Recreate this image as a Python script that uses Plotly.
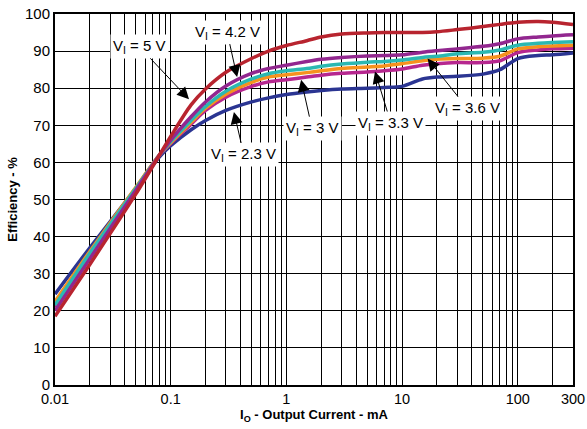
import math
import plotly.graph_objects as go

# Output current (mA)
current = [0.01, 0.02, 0.05, 0.08, 0.1, 0.15, 0.2, 0.3, 0.5, 0.7, 1, 1.5, 2, 3, 5, 7,
           10, 15, 20, 30, 50, 70, 100, 150, 200, 300]

eff_5v = [18.5, 32.5, 51.5, 62, 67, 75.5, 79.8, 84.3, 88, 90, 91.5, 92.8, 93.8, 94.6, 94.9, 95,
          95, 95, 95.2, 95.8, 96.6, 97.2, 97.8, 98, 97.8, 97.2]
eff_4v2 = [20, 34, 52.5, 62, 66, 72.3, 76.3, 80.6, 84, 85.3, 86.2, 87.2, 87.8, 88.3, 88.7, 88.8,
           89, 89.7, 90.1, 90.6, 91.3, 92, 93.3, 93.8, 94.1, 94.4]
eff_3v6 = [21.5, 35.5, 53, 62, 65.6, 71.3, 75.1, 79.2, 82.5, 83.9, 84.7, 85.3, 85.9, 86.5, 87, 87.2,
           87.6, 88.3, 88.6, 89.3, 89.7, 90.3, 91.6, 92.1, 92.3, 92.5]
eff_3v3 = [22.5, 36, 53.3, 62, 65.3, 70.8, 74.6, 78.4, 81.6, 83, 83.6, 84.2, 84.7, 85.3, 85.7, 86,
           86.6, 87.4, 87.8, 88, 88.1, 88.6, 90.6, 91.2, 91.4, 91.6]
eff_3v = [21, 35, 53, 62, 65.1, 70.3, 74, 77.6, 80.5, 81.7, 82.3, 83, 83.5, 84, 84.4, 84.7,
          85.2, 86.2, 86.6, 86.9, 86.9, 87.4, 89.6, 90.3, 90.6, 90.8]
eff_2v3 = [24.5, 37, 53, 61.5, 64.5, 68.8, 71.3, 74, 76.3, 77.4, 78.3, 79, 79.4, 79.8, 80, 80.2,
           80.5, 82.5, 83, 83.2, 83.8, 85, 88, 88.8, 89, 89.5]

series = [
    ("V<sub>I</sub> = 2.3 V", eff_2v3, "#2b3592"),
    ("V<sub>I</sub> = 3 V", eff_3v, "#b6278f"),
    ("V<sub>I</sub> = 3.3 V", eff_3v3, "#f6921e"),
    ("V<sub>I</sub> = 3.6 V", eff_3v6, "#2bb8b2"),
    ("V<sub>I</sub> = 4.2 V", eff_4v2, "#92278f"),
    ("V<sub>I</sub> = 5 V", eff_5v, "#b8242f"),
]

x_tickvals = [0.01, 0.1, 1, 10, 100, 300]
x_ticktext = ["0.01", "0.1", "1", "10", "100", "300"]

fig = go.Figure()
for name, ys, col in series:
    fig.add_trace(go.Scatter(x=current, y=ys, mode="lines", name=name,
                             line=dict(color=col, width=3.5, shape="spline", smoothing=0.8)))

font = "Liberation Sans, Arial, sans-serif"

# (label, tip current, tip efficiency, ax, ay)
labels = [
    ("V<sub>I</sub> = 5 V", 0.144, 77.0, -50, -53),
    ("V<sub>I</sub> = 4.2 V", 0.375, 83.0, -10, -45),
    ("V<sub>I</sub> = 2.3 V", 0.352, 73.6, 10, 43),
    ("V<sub>I</sub> = 3 V", 1.34, 82.3, 11, 49),
    ("V<sub>I</sub> = 3.3 V", 5.83, 84.5, 16, 52),
    ("V<sub>I</sub> = 3.6 V", 16.6, 88.0, 40, 50),
]
for text, xi, yi, ax, ay in labels:
    fig.add_annotation(x=math.log10(xi), y=yi, xref="x", yref="y", text=text,
                       showarrow=True, ax=ax, ay=ay, arrowhead=2, arrowsize=2.4,
                       arrowwidth=1, arrowcolor="black", bgcolor="white",
                       font=dict(family=font, size=15, color="black"), borderpad=2)

fig.update_layout(
    width=587, height=429,
    margin=dict(l=55, r=14, t=14, b=44),
    paper_bgcolor="white", plot_bgcolor="white",
    showlegend=False,
    font=dict(family=font, size=15, color="black"),
)
fig.update_xaxes(type="log", range=[-2, math.log10(300)], automargin=False,
                 tickvals=x_tickvals, ticktext=x_ticktext, ticks="",
                 ticklabeloverflow="allow", tickfont=dict(size=14.5),
                 showgrid=True, gridcolor="black", gridwidth=1,
                 minor=dict(dtick="D1", showgrid=True, gridcolor="black", gridwidth=1, ticks=""),
                 showline=True, linecolor="black", linewidth=2, mirror=True,
                 zeroline=False,
                 title=dict(text="<b>I<sub>O</sub> - Output Current - mA</b>",
                            font=dict(size=13), standoff=2))
fig.update_yaxes(range=[0, 100], dtick=10, ticks="", automargin=False,
                 ticklabeloverflow="allow",
                 showgrid=True, gridcolor="black", gridwidth=1,
                 showline=True, linecolor="black", linewidth=2, mirror=True,
                 zeroline=False,
                 title=dict(text="<b>Efficiency - %</b>", font=dict(size=13), standoff=4))

fig.write_html("out.html")
